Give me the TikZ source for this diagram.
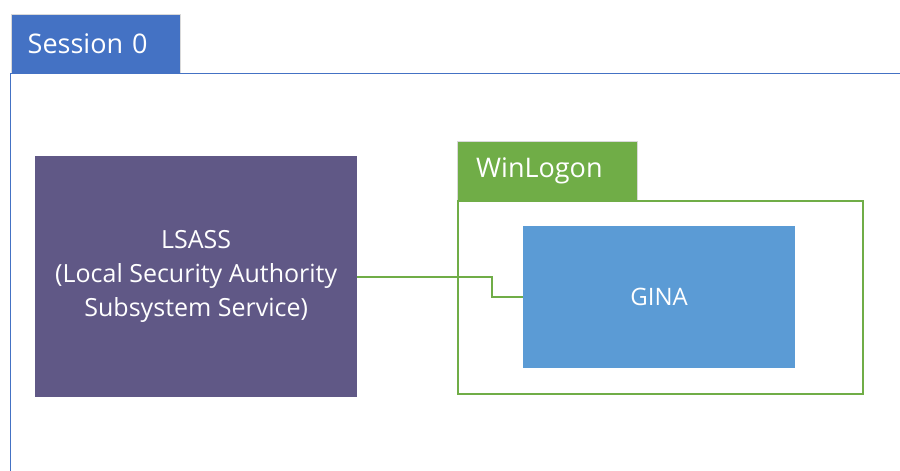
\documentclass[tikz,border=0pt]{standalone}
\usepackage{fontspec}
\setmainfont{Open Sans}
\definecolor{sessblue}{HTML}{4472C4}
\definecolor{lsapurple}{HTML}{605886}
\definecolor{wlgreen}{HTML}{70AD47}
\definecolor{ginablue}{HTML}{5B9BD5}
\begin{document}
\begin{tikzpicture}[x=1pt,y=-1pt,
  tabbox/.style={anchor=north west, inner xsep=17pt, inner ysep=0pt, align=left, text=white, draw=white!85!black, line width=0.4pt},
  fillbox/.style={anchor=north west, inner sep=0pt, align=center, text=white},
  frameline/.style={line width=1.6pt}
]
\useasboundingbox (0,0) rectangle (900,471);
% Session 0
\node[tabbox, fill=sessblue, minimum width=169pt, minimum height=59pt, text width=135pt,
  font=\fontsize{27}{32}\selectfont] (sess) at (10.5,14) {Session 0};
\coordinate (sessright) at (900,73.5);
\coordinate (sessbottom) at (10.5,471);
\draw[draw=sessblue, line width=1.5pt] (sessright) -- (sessright -| sess.south west) -- (sessbottom);
% LSASS
\node[fillbox, fill=lsapurple, minimum width=322pt, minimum height=241pt,
  font=\fontsize{25}{34}\selectfont] (lsass) at (35,156) {LSASS\\(Local Security Authority\\Subsystem Service)};
% WinLogon
\node[tabbox, fill=wlgreen, minimum width=180pt, minimum height=59pt, text width=146pt,
  inner xsep=19pt, text width=142pt,
  font=\fontsize{27}{32}\selectfont] (wl) at (457,141) {WinLogon};
\node[anchor=north west, draw=wlgreen, frameline, minimum width=405pt, minimum height=193pt, inner sep=0pt] (wlframe) at (457,200) {};
% GINA
\node[fillbox, fill=ginablue, minimum width=272pt, minimum height=142pt,
  font=\fontsize{24}{28}\selectfont] (gina) at (523,226) {GINA};
% connector
\coordinate (bend) at (492,0);
\draw[draw=wlgreen, line width=1.6pt] (lsass.east) -- (lsass.east -| bend) |- (gina.west);
\end{tikzpicture}
\end{document}
